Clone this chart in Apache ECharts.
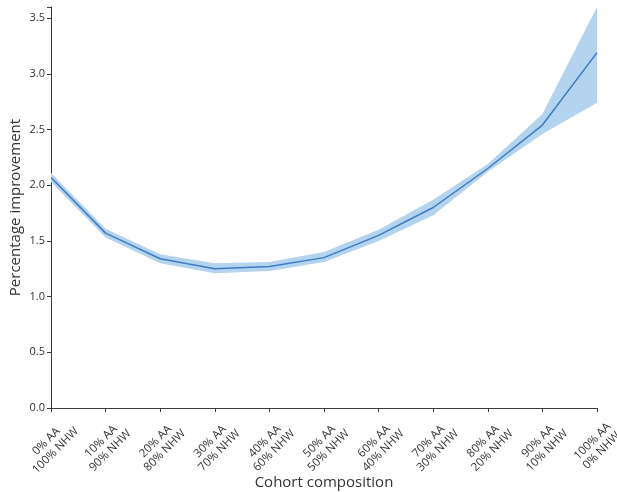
<!DOCTYPE html>
<html>
<head>
<meta charset="utf-8">
<script src="https://cdn.jsdelivr.net/npm/echarts@6/dist/echarts.min.js"></script>
<style>
  html, body { margin: 0; padding: 0; background: #fff; }
  #chart { width: 617px; height: 492px; }
</style>
</head>
<body>
<div id="chart"></div>
<script>
// Cohort mixes on the x axis
const categories = [
  '0% AA\n100% NHW', '10% AA\n90% NHW', '20% AA\n80% NHW', '30% AA\n70% NHW',
  '40% AA\n60% NHW', '50% AA\n50% NHW', '60% AA\n40% NHW', '70% AA\n30% NHW',
  '80% AA\n20% NHW', '90% AA\n10% NHW', '100% AA\n0% NHW'
];
// Mean improvement and its confidence band
const meanValues  = [2.07, 1.57, 1.34, 1.25, 1.27, 1.35, 1.55, 1.80, 2.15, 2.54, 3.19];
const lowerValues = [2.03, 1.53, 1.30, 1.21, 1.23, 1.31, 1.50, 1.73, 2.12, 2.46, 2.74];
const upperValues = [2.11, 1.61, 1.38, 1.30, 1.31, 1.40, 1.60, 1.87, 2.19, 2.64, 3.60];
const yTicks = [0, 0.5, 1.0, 1.5, 2.0, 2.5, 3.0, 3.5];

const bandHeight = upperValues.map((u, i) => +(u - lowerValues[i]).toFixed(3));

const axisColor = '#3a3a3a';
const textColor = '#333';
const fontFamily = '"Open Sans", "DejaVu Sans", sans-serif';

const chart = echarts.init(document.getElementById('chart'), null, { renderer: 'canvas' });
chart.setOption({
  animation: false,
  backgroundColor: '#fff',
  grid: {
    left: 51, right: 20, top: 7, bottom: 84,
    containLabel: false, outerBoundsMode: 'none'
  },
  xAxis: {
    type: 'category',
    data: categories,
    boundaryGap: false,
    name: 'Cohort composition',
    nameLocation: 'middle',
    nameGap: 67,
    nameMoveOverlap: false,
    nameTextStyle: { fontSize: 15, color: textColor, fontFamily },
    axisLine: { lineStyle: { color: axisColor, width: 1 } },
    axisTick: { alignWithLabel: true, length: 4, lineStyle: { color: axisColor } },
    axisLabel: {
      rotate: 45, interval: 0, fontSize: 11.5, color: textColor, fontFamily,
      align: 'center', verticalAlign: 'middle', margin: 38, lineHeight: 13
    },
    splitLine: { show: false }
  },
  yAxis: {
    type: 'value',
    min: 0, max: 3.6, interval: 0.5,
    name: 'Percentage improvement',
    nameLocation: 'middle',
    nameGap: 28,
    nameMoveOverlap: false,
    nameTextStyle: { fontSize: 15, color: textColor, fontFamily },
    axisLine: { show: true, lineStyle: { color: axisColor, width: 1 } },
    axisTick: { show: true, length: 4, lineStyle: { color: axisColor } },
    axisLabel: {
      fontSize: 11, color: textColor, fontFamily, margin: 6,
      formatter: v => (yTicks.some(t => Math.abs(t - v) < 1e-9) ? v.toFixed(1) : '')
    },
    splitLine: { show: false }
  },
  series: [
    {
      name: 'lower', type: 'line', data: lowerValues, stack: 'band',
      symbol: 'none', lineStyle: { opacity: 0 }, silent: true
    },
    {
      name: 'band', type: 'line', data: bandHeight, stack: 'band',
      symbol: 'none', lineStyle: { opacity: 0 },
      areaStyle: { color: '#b3d3ee', opacity: 1 }, silent: true
    },
    {
      name: 'mean', type: 'line', data: meanValues,
      symbol: 'none', lineStyle: { color: '#3d7cc0', width: 1.5 }
    }
  ]
});
</script>
</body>
</html>
